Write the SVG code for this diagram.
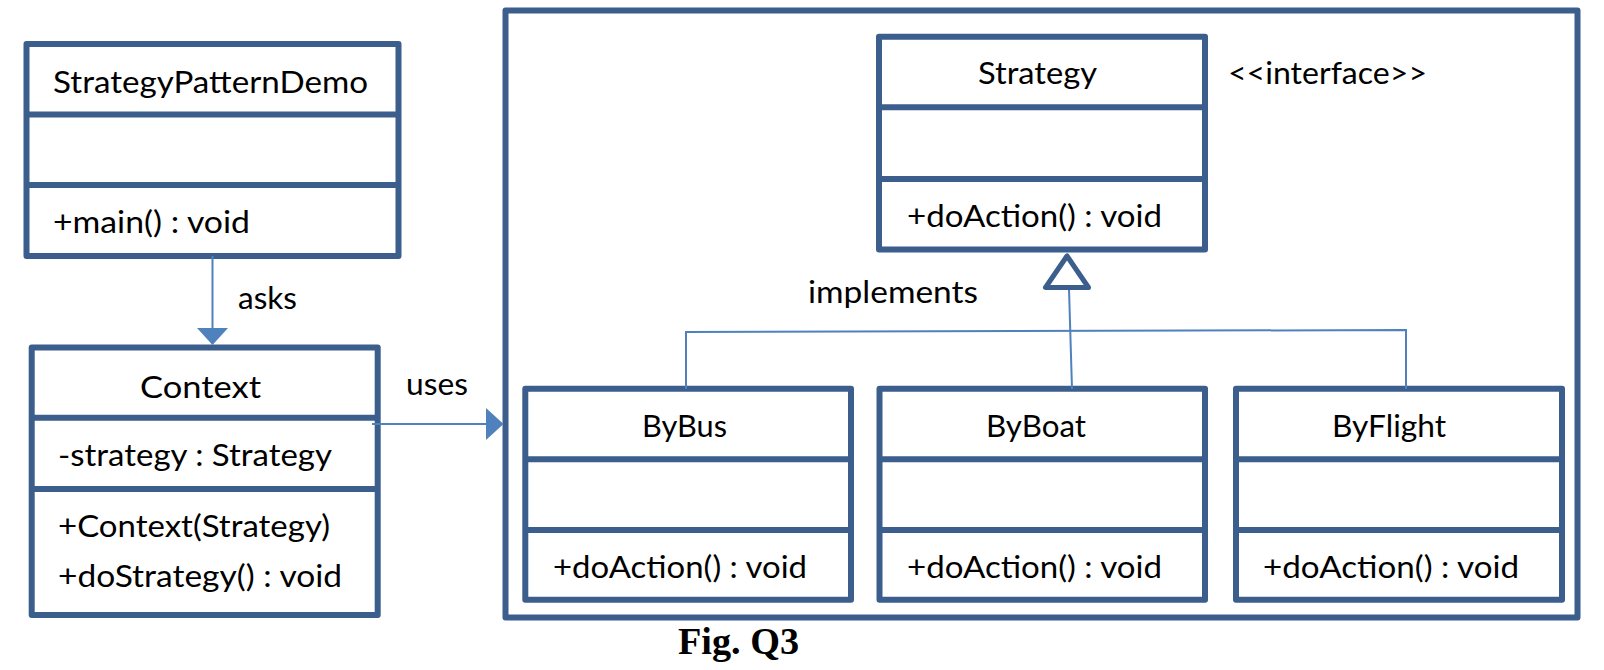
<svg xmlns="http://www.w3.org/2000/svg" width="1604" height="670" viewBox="0 0 1604 670">
<style>
.box{fill:#fff;stroke:#3B5E8C;stroke-width:6;stroke-linejoin:round}
.div{stroke:#3B5E8C;stroke-width:6}
.t{font-family:Lato,"Open Sans","Liberation Sans",sans-serif;font-size:31px;fill:#000}
.c{text-anchor:start}
.con{stroke:#4F81BD;stroke-width:2;fill:none}
.head{fill:#4F81BD}
</style>
<rect x="0" y="0" width="1604" height="670" fill="#fff"/>
<g id="frame">
<rect class="box" x="505.5" y="10.5" width="1072" height="607"/>
</g>
<g id="StrategyPatternDemo">
<rect class="box" x="26.5" y="44" width="372" height="212"/>
<line class="div" x1="26.5" y1="114.5" x2="398.5" y2="114.5"/>
<line class="div" x1="26.5" y1="185" x2="398.5" y2="185"/>
<text class="t" x="53" y="93" textLength="315" lengthAdjust="spacingAndGlyphs">StrategyPatternDemo</text>
<text class="t" x="53" y="233" textLength="197" lengthAdjust="spacingAndGlyphs">+main() : void</text>
</g>
<g id="Context">
<rect class="box" x="31.7" y="347.5" width="346" height="267.5"/>
<line class="div" x1="31.7" y1="417.7" x2="377.7" y2="417.7"/>
<line class="div" x1="31.7" y1="489" x2="377.7" y2="489"/>
<text class="t" x="140" y="398" font-size="33" textLength="121" lengthAdjust="spacingAndGlyphs">Context</text>
<text class="t" x="58" y="466" textLength="274" lengthAdjust="spacingAndGlyphs">-strategy : Strategy</text>
<text class="t" x="58" y="537" textLength="272" lengthAdjust="spacingAndGlyphs">+Context(Strategy)</text>
<text class="t" x="58" y="587" textLength="284" lengthAdjust="spacingAndGlyphs">+doStrategy() : void</text>
</g>
<g id="Strategy">
<rect class="box" x="879" y="36.7" width="326" height="212.8"/>
<line class="div" x1="879" y1="107.3" x2="1205" y2="107.3"/>
<line class="div" x1="879" y1="179" x2="1205" y2="179"/>
<text class="t" x="978" y="83.5" textLength="119" lengthAdjust="spacingAndGlyphs">Strategy</text>
<text class="t" x="907" y="227" textLength="255" lengthAdjust="spacingAndGlyphs">+doAction() : void</text>
</g>
<g id="interface-label">
<text class="t" x="1228" y="83.5" textLength="199" lengthAdjust="spacingAndGlyphs">&lt;&lt;interface&gt;&gt;</text>
</g>
<g id="ByBus">
<rect class="box" x="525.3" y="388.7" width="325.7" height="211"/>
<line class="div" x1="525.3" y1="459.3" x2="851" y2="459.3"/>
<line class="div" x1="525.3" y1="530" x2="851" y2="530"/>
<text class="t" x="642" y="437" textLength="85" lengthAdjust="spacingAndGlyphs">ByBus</text>
<text class="t" x="553" y="577.5" textLength="254" lengthAdjust="spacingAndGlyphs">+doAction() : void</text>
</g>
<g id="ByBoat">
<rect class="box" x="879.5" y="388.7" width="325.5" height="211"/>
<line class="div" x1="879.5" y1="459.3" x2="1205" y2="459.3"/>
<line class="div" x1="879.5" y1="530" x2="1205" y2="530"/>
<text class="t" x="986" y="437" textLength="100" lengthAdjust="spacingAndGlyphs">ByBoat</text>
<text class="t" x="907" y="577.5" textLength="255" lengthAdjust="spacingAndGlyphs">+doAction() : void</text>
</g>
<g id="ByFlight">
<rect class="box" x="1236" y="388.7" width="326" height="211"/>
<line class="div" x1="1236" y1="459.3" x2="1562" y2="459.3"/>
<line class="div" x1="1236" y1="530" x2="1562" y2="530"/>
<text class="t" x="1332" y="437" textLength="114" lengthAdjust="spacingAndGlyphs">ByFlight</text>
<text class="t" x="1263" y="577.5" textLength="256" lengthAdjust="spacingAndGlyphs">+doAction() : void</text>
</g>
<g id="connectors">
<line class="con" x1="212.5" y1="256" x2="212.5" y2="329"/>
<polygon class="head" points="197,328 228,328 212.5,345"/>
<text class="t" x="238" y="309" textLength="59" lengthAdjust="spacingAndGlyphs">asks</text>
<line class="con" x1="372" y1="424" x2="487" y2="424"/>
<polygon class="head" points="486,408 503.5,424 486,440"/>
<text class="t" x="406" y="395" textLength="62" lengthAdjust="spacingAndGlyphs">uses</text>
<polyline class="con" points="686,389 686,332 1406,330 1406,389"/>
<line class="con" x1="1069" y1="289" x2="1072" y2="389"/>
<polygon points="1067,256 1045.5,287.5 1088.5,287.5" fill="#fff" stroke="#3B5E8C" stroke-width="5" stroke-linejoin="round"/>
<text class="t" x="808" y="303" textLength="170" lengthAdjust="spacingAndGlyphs">implements</text>
</g>
<g id="caption">
<text x="678" y="654" font-family="'Liberation Serif','Times New Roman',serif" font-weight="bold" font-size="38" textLength="121" lengthAdjust="spacingAndGlyphs">Fig. Q3</text>
</g>
</svg>
